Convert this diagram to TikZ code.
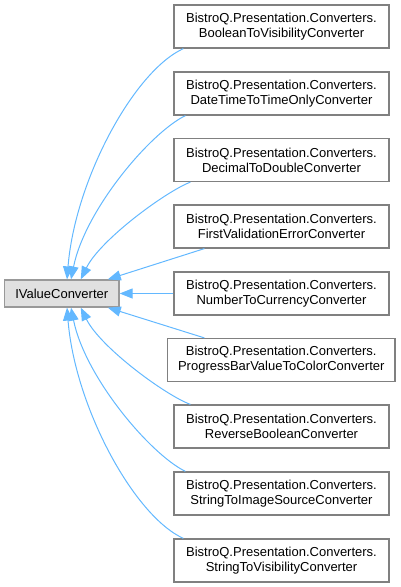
\documentclass[tikz,border=0pt]{standalone}
\usepackage{fontspec}
\setmainfont{Liberation Sans}
\usetikzlibrary{arrows.meta}
\definecolor{edgeblue}{HTML}{63B8FF}
\definecolor{boxborder}{HTML}{808080}
\definecolor{rootborder}{HTML}{999999}
\definecolor{rootfill}{HTML}{E0E0E0}
\tikzset{
  cls/.style={draw=boxborder, line width=1.2pt, fill=white, inner sep=0pt,
    minimum width=215pt, minimum height=43pt, align=center,
    font=\fontsize{13}{15}\selectfont},
  widecls/.style={cls, minimum width=227.5pt},
  rootcls/.style={draw=rootborder, line width=1.2pt, fill=rootfill, inner sep=0pt,
    minimum width=114.5pt, minimum height=27pt,
    font=\fontsize{13}{15}\selectfont},
  inh/.style={draw=edgeblue, line width=1pt,
    -{Triangle[length=13pt,width=10pt]}}
}
\begin{document}
\begin{tikzpicture}[x=1pt,y=-1pt]
\useasboundingbox (0,0) rectangle (400,587);
\node[rootcls] (root) at (61.75,293.5) {IValueConverter};
\node[cls] (b1) at (281.5,26.5) {BistroQ.Presentation.Converters.\\BooleanToVisibilityConverter};
\node[cls] (b2) at (281.5,93.5) {BistroQ.Presentation.Converters.\\DateTimeToTimeOnlyConverter};
\node[cls] (b3) at (281.5,160) {BistroQ.Presentation.Converters.\\DecimalToDoubleConverter};
\node[cls] (b4) at (281.5,226.5) {BistroQ.Presentation.Converters.\\FirstValidationErrorConverter};
\node[cls] (b5) at (281.5,293.5) {BistroQ.Presentation.Converters.\\NumberToCurrencyConverter};
\node[widecls] (b6) at (281.25,360) {BistroQ.Presentation.Converters.\\ProgressBarValueToColorConverter};
\node[cls] (b7) at (281.5,426.5) {BistroQ.Presentation.Converters.\\ReverseBooleanConverter};
\node[cls] (b8) at (281.5,493.5) {BistroQ.Presentation.Converters.\\StringToImageSourceConverter};
\node[cls] (b9) at (281.5,560.5) {BistroQ.Presentation.Converters.\\StringToVisibilityConverter};

\draw[inh] ([xshift=10pt]b1.south west) .. controls (134,71) and (75,180) .. ([xshift=5.25pt]root.north);
\draw[inh] ([xshift=12pt]b2.south west) .. controls (150,133) and (85,210) .. ([xshift=9.25pt]root.north);
\draw[inh] ([xshift=17pt]b3.south west) .. controls (165,192) and (100,240) .. ([xshift=19pt]root.north);
\draw[inh] ([xshift=31pt]b4.south west) -- ([xshift=46pt]root.north);
\draw[inh] (b5.west) -- (root.east);
\draw[inh] ([xshift=37.5pt]b6.north west) -- ([xshift=46pt]root.south);
\draw[inh] ([xshift=17pt]b7.north west) .. controls (165,395) and (100,347) .. ([xshift=19pt]root.south);
\draw[inh] ([xshift=12pt]b8.north west) .. controls (150,454) and (85,377) .. ([xshift=9.25pt]root.south);
\draw[inh] ([xshift=10pt]b9.north west) .. controls (134,516) and (75,407) .. ([xshift=5.25pt]root.south);
\end{tikzpicture}
\end{document}
